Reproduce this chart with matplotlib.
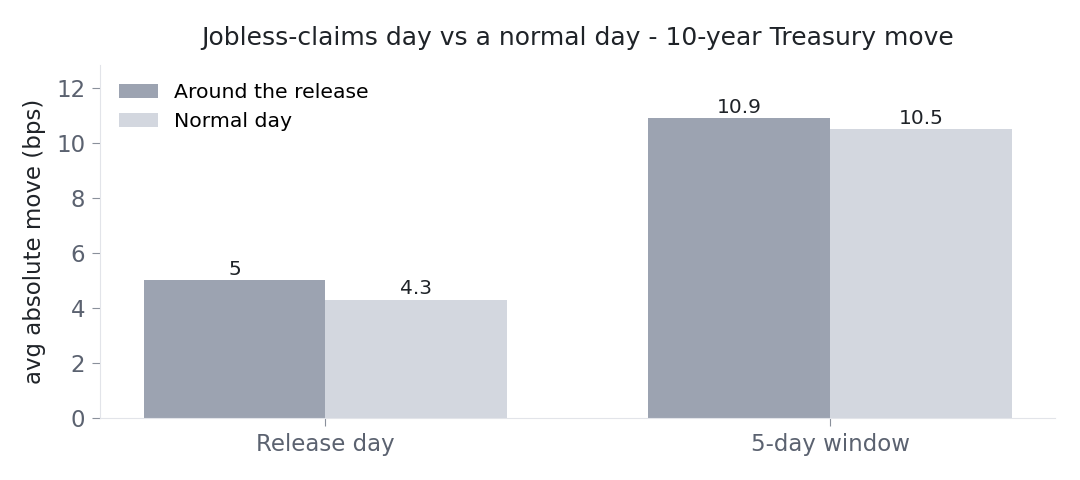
import matplotlib.pyplot as plt
import numpy as np

categories = ["Release day", "5-day window"]
around_release = [5.0, 10.9]
normal_day = [4.3, 10.5]
series_names = ["Around the release", "Normal day"]

fig, ax = plt.subplots(figsize=(10.8, 4.8), dpi=100)

x = np.arange(len(categories))
w = 0.36
b1 = ax.bar(x - w / 2, around_release, w, color="#9ca3b1", label=series_names[0])
b2 = ax.bar(x + w / 2, normal_day, w, color="#d3d7df", label=series_names[1])
ax.bar_label(b1, fmt="%g", fontsize=14.5, color="#1f2328", padding=1)
ax.bar_label(b2, fmt="%g", fontsize=14.5, color="#1f2328", padding=1)

ax.set_xticks(x)
ax.set_xticklabels(categories)
ax.set_ylim(0, 12.85)
ax.set_ylabel("avg absolute move (bps)", fontsize=16.5, color="#1f2328", labelpad=7)
ax.set_title("Jobless-claims day vs a normal day - 10-year Treasury move",
             fontsize=18, color="#1f2328", pad=14)

for s in ["top", "right"]:
    ax.spines[s].set_visible(False)
for s in ["left", "bottom"]:
    ax.spines[s].set_color("#e2e4e9")
ax.tick_params(colors="#5b6270", labelsize=16.5, length=6, pad=5)
ax.tick_params(axis="both", color="#8a909b")

ax.legend(frameon=False, fontsize=14.7, loc="upper left", borderaxespad=0.5,
          handlelength=1.9)

fig.subplots_adjust(left=0.093, right=0.977, top=0.865, bottom=0.13)
fig.savefig("out.png")
